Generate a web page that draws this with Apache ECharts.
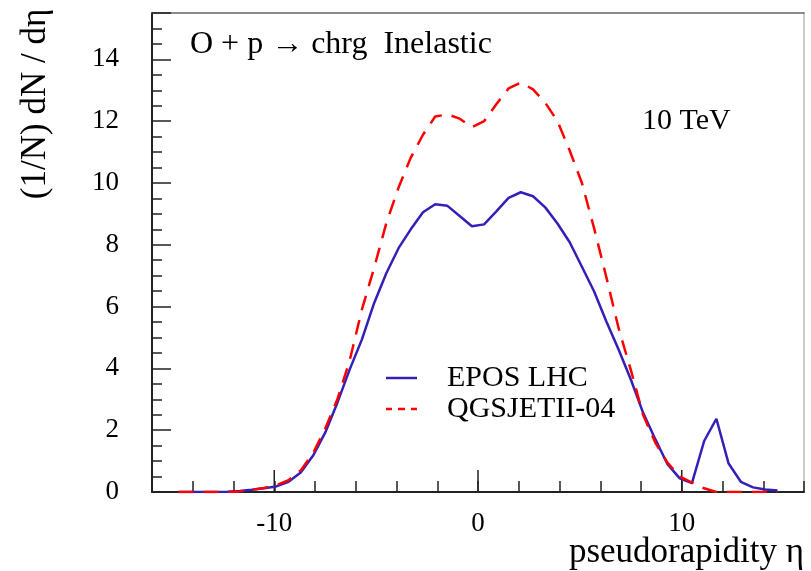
<!DOCTYPE html>
<html>
<head>
<meta charset="utf-8">
<script src="https://cdn.jsdelivr.net/npm/echarts@6/dist/echarts.min.js"></script>
<style>html,body{margin:0;background:#fff}#chart{width:811px;height:571px}</style>
</head>
<body>
<div id="chart"></div>
<script>
// bin centres in pseudorapidity
var etaBins = [-14.7, -14.1, -13.5, -12.9, -12.3, -11.7, -11.1, -10.5, -9.9, -9.3,
  -8.7, -8.1, -7.5, -6.9, -6.3, -5.7, -5.1, -4.5, -3.9, -3.3,
  -2.7, -2.1, -1.5, -0.9, -0.3, 0.3, 0.9, 1.5, 2.1, 2.7,
  3.3, 3.9, 4.5, 5.1, 5.7, 6.3, 6.9, 7.5, 8.1, 8.7,
  9.3, 9.9, 10.5, 11.1, 11.7, 12.3, 12.9, 13.5, 14.1, 14.7];
var eposLhc = [0, 0, 0, 0, 0.01, 0.03, 0.07, 0.12, 0.18, 0.33,
  0.63, 1.17, 1.92, 2.89, 3.96, 4.93, 6.11, 7.08, 7.89, 8.5,
  9.05, 9.31, 9.26, 8.93, 8.6, 8.66, 9.08, 9.52, 9.7, 9.57,
  9.21, 8.69, 8.08, 7.29, 6.49, 5.52, 4.61, 3.64, 2.57, 1.71,
  0.9, 0.44, 0.29, 1.65, 2.37, 0.92, 0.33, 0.15, 0.08, 0.05];
var qgsjet = [0, 0, 0, 0, 0, 0.02, 0.07, 0.13, 0.22, 0.38,
  0.7, 1.25, 2.05, 3.0, 4.25, 5.9, 7.25, 8.7, 9.85, 10.82,
  11.56, 12.15, 12.22, 12.08, 11.8, 12.0, 12.55, 13.06, 13.25, 13.03,
  12.6, 12.0, 11.05, 10.0, 8.53, 6.95, 5.3, 3.95, 2.5, 1.6,
  0.95, 0.5, 0.3, 0.12, 0, 0, 0, 0, 0, 0];
var xMajorTicks = [-10, 0, 10];
var yMajorTicks = [0, 2, 4, 6, 8, 10, 12, 14];

function pairs(ys) {
  return etaBins.map(function (x, i) { return [x, ys[i]]; });
}

var serif = '"Liberation Serif", "DejaVu Serif", serif';
var axisCol = '#222';
var txt = { fontFamily: serif, fontWeight: 'normal', color: '#000' };

var chart = echarts.init(document.getElementById('chart'));
chart.setOption({
  animation: false,
  grid: { left: 152, right: 7, top: 13, bottom: 79 },
  title: [
    { text: 'O + p \u2192 chrg  Inelastic', left: 190, top: 29, padding: 0,
      textStyle: Object.assign({ fontSize: 32 }, txt) },
    { text: '10 TeV', left: 642, top: 106, padding: 0,
      textStyle: Object.assign({ fontSize: 30 }, txt) }
  ],
  legend: {
    orient: 'vertical', left: 381, top: 358, itemWidth: 31, itemHeight: 2.5, itemGap: 1,
    textStyle: { fontFamily: serif, fontSize: 30, color: '#000', padding: [0, 0, 0, 25], lineHeight: 29 },
    data: [
      { name: 'EPOS LHC', icon: 'path://M0,0H31V2.5H0Z' },
      { name: 'QGSJETII-04', icon: 'path://M0,0H6V2.5H0Z M12,0H19V2.5H12Z M25,0H31V2.5H25Z' }
    ]
  },
  xAxis: [
    { type: 'value', min: -16, max: 16, interval: 2,
      axisLine: { onZero: false, lineStyle: { color: axisCol, width: 2 } },
      axisTick: { inside: true, length: 11, lineStyle: { color: axisCol, width: 1.5 } },
      axisLabel: { margin: 18, fontSize: 27, fontFamily: serif, color: '#000',
        formatter: function (v) { return xMajorTicks.indexOf(v) >= 0 ? String(v) : ''; } },
      splitLine: { show: false } },
    { type: 'value', min: -16, max: 16, position: 'top',
      axisLine: { onZero: false, lineStyle: { color: '#666', width: 1.5 } },
      axisTick: { show: false }, axisLabel: { show: false }, splitLine: { show: false } }
  ],
  yAxis: [
    { type: 'value', min: 0, max: 15.5, interval: 2,
      axisLine: { show: true, onZero: false, lineStyle: { color: axisCol, width: 2 } },
      axisTick: { show: true, inside: true, length: 19, lineStyle: { color: axisCol, width: 1.5 } },
      axisLabel: { margin: 33, fontSize: 27, fontFamily: serif, color: '#000',
        formatter: function (v) { return yMajorTicks.indexOf(v) >= 0 ? String(v) : ''; } },
      splitLine: { show: false } },
    { type: 'value', min: 0, max: 15.5, interval: 0.5, position: 'left',
      axisLine: { show: false, onZero: false },
      axisTick: { show: true, inside: true, length: 10, lineStyle: { color: axisCol, width: 1.5 } },
      axisLabel: { show: false }, splitLine: { show: false } },
    { type: 'value', min: 0, max: 15.5, position: 'right',
      axisLine: { show: true, onZero: false, lineStyle: { color: '#bbb', width: 1.5 } },
      axisTick: { show: false }, axisLabel: { show: false }, splitLine: { show: false } }
  ],
  graphic: [
    { type: 'text', x: 36, y: 104, rotation: Math.PI / 2,
      style: { text: '(1/N) dN / d\u03b7', fontFamily: serif, fontSize: 35, fill: '#000', align: 'center', verticalAlign: 'middle' } },
    { type: 'text', x: 804, y: 553,
      style: { text: 'pseudorapidity \u03b7', fontFamily: serif, fontSize: 35, fill: '#000', align: 'right', verticalAlign: 'middle' } }
  ],
  series: [
    { name: 'EPOS LHC', type: 'line', data: pairs(eposLhc), symbol: 'none',
      lineStyle: { color: '#3320b8', width: 2.5 }, itemStyle: { color: '#3320b8' } },
    { name: 'QGSJETII-04', type: 'line', data: pairs(qgsjet), symbol: 'none',
      lineStyle: { color: '#ff0000', width: 2.5, type: [15, 10] }, itemStyle: { color: '#ff0000' } },
    // long ticks at the labelled eta values
    { name: 'xMajor', type: 'custom', silent: true, clip: false, z: 3,
      data: xMajorTicks.map(function (v) { return [v, 0]; }),
      renderItem: function (params, api) {
        var p = api.coord([api.value(0), 0]);
        return { type: 'line', shape: { x1: p[0], y1: p[1], x2: p[0], y2: p[1] - 22 },
          style: { stroke: axisCol, lineWidth: 1.5 } };
      } }
  ]
});
</script>
</body>
</html>
